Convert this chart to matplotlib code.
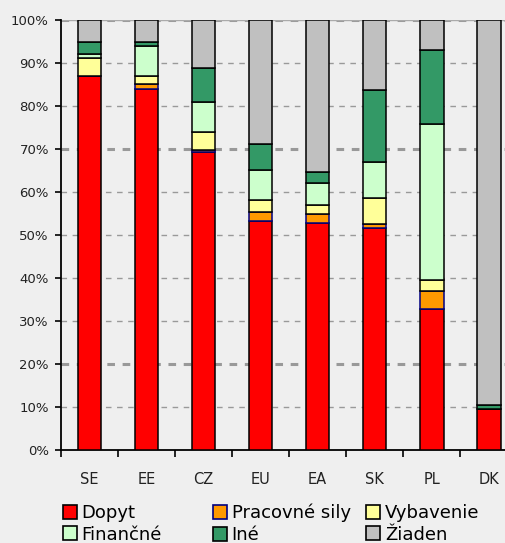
import matplotlib
matplotlib.use("Agg")
import matplotlib.pyplot as plt
from matplotlib.patches import Patch
import numpy as np

categories = ["SE", "EE", "CZ", "EU", "EA", "SK", "PL", "DK"]
dopyt      = [87.0, 83.9, 69.3, 53.2, 52.7, 51.7, 32.9, 9.5]
pracovne   = [0.0, 1.2, 0.5, 2.1, 2.1, 0.9, 4.1, 0.0]
vybavenie  = [4.2, 1.9, 4.2, 2.8, 2.1, 6.0, 2.5, 0.0]
financne   = [0.9, 7.0, 7.0, 7.0, 5.1, 8.4, 36.3, 0.0]
ine        = [2.8, 0.8, 7.9, 6.1, 2.7, 16.7, 17.2, 1.0]
ziaden     = [5.1, 5.2, 11.1, 28.8, 35.3, 16.3, 7.0, 89.5]

series_names = ["Dopyt", "Pracovné sily", "Vybavenie", "Finančné", "Iné", "Žiaden"]
series = [dopyt, pracovne, vybavenie, financne, ine, ziaden]
colors = ["#FF0000", "#FF9900", "#FFFF99", "#CCFFCC", "#339966", "#C0C0C0"]
edges = ["black", "#000080", "black", "black", "black", "black"]
yticks = [0, 10, 20, 30, 40, 50, 60, 70, 80, 90, 100]

bg = "#EFEFEF"
fig = plt.figure(figsize=(5.05, 5.43), dpi=100, facecolor=bg)
ax = fig.add_axes([60.7/505, 93/543, 456.8/505, 430/543])
ax.set_facecolor(bg)

x = np.arange(len(categories))
bottom = np.zeros(len(categories))
for vals, c, e in zip(series, colors, edges):
    v = np.array(vals)
    ax.bar(x, v, bottom=bottom, width=0.41, color=c, edgecolor=e, linewidth=1.1, zorder=3)
    bottom += v

ax.set_xlim(-0.5, len(categories) - 0.5)
ax.set_ylim(0, 100)
ax.set_yticks(yticks)
ax.set_yticklabels([f"{t}%" for t in yticks], fontsize=9.5, color="#222222")
ax.set_xticks(x)
ax.set_xticklabels(categories, fontsize=10.5, color="#222222")
ax.tick_params(axis="x", length=0, pad=15.5)
ax.set_xticks(np.arange(len(categories) + 1) - 0.5, minor=True)
ax.tick_params(axis="x", which="minor", length=5, width=1.2, direction="out")
ax.tick_params(axis="y", length=4.5, width=1.2, direction="out", pad=4)

thick = {20, 70, 100}
for t in yticks[1:]:
    ax.axhline(t, color="#999999", linestyle=(0, (4, 4)) if t not in thick else (0, (2.5, 2.5)),
               linewidth=1.0 if t not in thick else 2.2, zorder=1)
ax.axhline(100, color="#AAAAAA", linewidth=1.0, zorder=1)

for s in ["top", "right"]:
    ax.spines[s].set_visible(False)
ax.spines["left"].set_linewidth(1.3)
ax.spines["bottom"].set_linewidth(1.3)

# legend: three columns of two entries each
cols = [(66.7, [0, 3]), (216.7, [1, 4]), (370, [2, 5])]
for xpx, idxs in cols:
    handles = [Patch(facecolor=colors[i], edgecolor=edges[i], linewidth=1.2) for i in idxs]
    labels = [series_names[i] for i in idxs]
    fig.legend(handles, labels, loc="upper left",
               bbox_to_anchor=((xpx - 4) / 505, 1 - 504 / 543),
               frameon=False, fontsize=13, handlelength=0.8, handleheight=0.8,
               handletextpad=0.25, labelspacing=0.2, borderpad=0, borderaxespad=0)

fig.savefig("out.png", dpi=100, facecolor=bg)
